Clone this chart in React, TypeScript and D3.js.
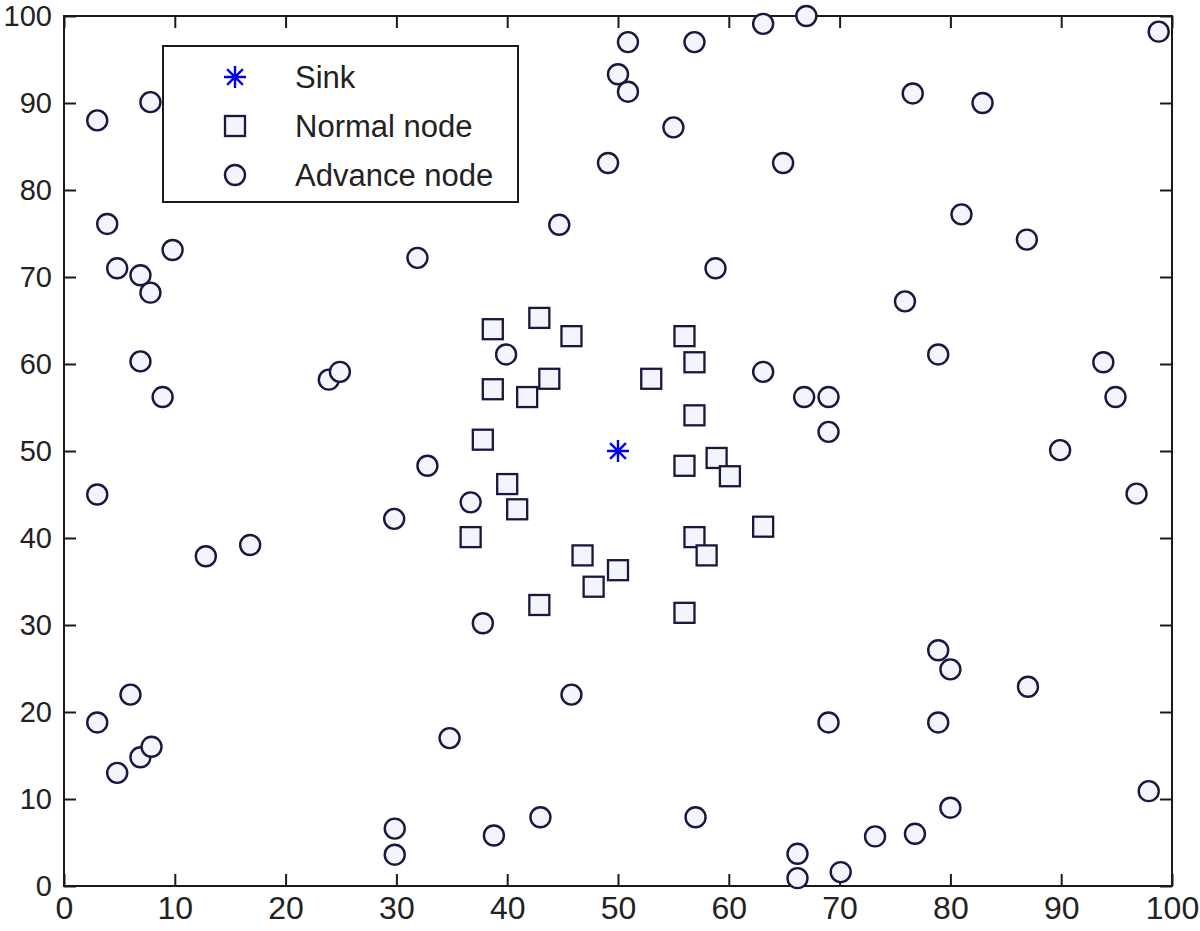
import React, { useEffect, useRef } from 'react';
import * as d3 from 'd3';

const sinkX = [50];
const sinkY = [50];

const normalX = [38.7, 42.9, 45.8, 56, 56.9, 53, 43.8, 41.8, 38.7, 56.9, 37.8, 56, 58.9, 60.1, 40, 40.9, 36.7, 63.1, 56.9, 58, 46.8, 50, 47.8, 42.9, 56];
const normalY = [64, 65.3, 63.2, 63.2, 60.2, 58.3, 58.3, 56.2, 57.1, 54.1, 51.3, 48.3, 49.2, 47.1, 46.2, 43.3, 40.1, 41.3, 40.1, 38, 38, 36.3, 34.4, 32.3, 31.4];

const advanceX = [3, 7.8, 3.9, 4.8, 6.9, 7.8, 9.8, 6.9, 8.9, 3, 12.8, 16.8, 6, 3, 4.8, 6.9, 7.9, 23.9, 24.9, 31.9, 32.8, 29.8, 34.8, 29.85, 29.85, 38.8, 43, 45.8, 37.8, 36.7, 39.9, 44.7, 49.1, 50, 50.9, 50.9, 55, 56.9, 63.1, 67, 64.9, 58.8, 63.1, 66.8, 69, 69, 57, 66.2, 66.2, 70.1, 73.2, 76.8, 80, 69, 78.9, 78.9, 80, 87, 97.9, 89.9, 96.8, 93.8, 94.9, 78.9, 75.9, 86.9, 81, 76.6, 82.9, 98.8];
const advanceY = [88, 90.1, 76.1, 71, 70.2, 68.2, 73.1, 60.3, 56.2, 45, 37.9, 39.2, 22, 18.8, 13, 14.8, 16, 58.2, 59.1, 72.2, 48.3, 42.2, 17, 6.6, 3.6, 5.8, 7.9, 22, 30.2, 44.1, 61.1, 76, 83.1, 93.3, 97, 91.3, 87.2, 97, 99.1, 100, 83.1, 71, 59.1, 56.2, 56.2, 52.2, 7.9, 3.7, 0.9, 1.6, 5.7, 6, 9, 18.8, 18.8, 27.1, 24.9, 22.9, 10.9, 50.1, 45.1, 60.2, 56.2, 61.1, 67.2, 74.3, 77.2, 91.1, 90, 98.2];

const xTicks = [0, 10, 20, 30, 40, 50, 60, 70, 80, 90, 100];
const yTicks = [0, 10, 20, 30, 40, 50, 60, 70, 80, 90, 100];
const legendLabels = ['Sink', 'Normal node', 'Advance node'];

const W = 1200;
const H = 931;
const M = { left: 64, right: 1172, top: 16, bottom: 886 };
const MARK = '#17173f';
const FILL = '#f3f4fc';
const AXIS = '#1a1a1a';
const FONT = '"Liberation Sans", Arial, sans-serif';

function starPath(cx: number, cy: number, r: number) {
  const p = d3.path();
  const d = r * 0.72;
  p.moveTo(cx - r, cy); p.lineTo(cx + r, cy);
  p.moveTo(cx, cy - r); p.lineTo(cx, cy + r);
  p.moveTo(cx - d, cy - d); p.lineTo(cx + d, cy + d);
  p.moveTo(cx - d, cy + d); p.lineTo(cx + d, cy - d);
  return p.toString();
}

export default function App() {
  const ref = useRef<SVGSVGElement>(null);
  useEffect(() => {
    const svg = d3.select(ref.current);
    svg.selectAll('*').remove();
    const x = d3.scaleLinear().domain([0, 100]).range([M.left, M.right]);
    const y = d3.scaleLinear().domain([0, 100]).range([M.bottom, M.top]);

    svg.append('rect').attr('width', W).attr('height', H).attr('fill', '#fff');

    const styleAxis = (g: any, fs: number) => {
      g.select('.domain').remove();
      g.selectAll('line').attr('stroke', AXIS).attr('stroke-width', 2);
      g.selectAll('text').attr('fill', '#222').style('font-family', FONT).style('font-size', fs + 'px');
    };

    const gx = svg.append('g').attr('transform', `translate(0,${M.bottom})`)
      .call(d3.axisBottom(x).tickValues(xTicks).tickSize(-12).tickSizeOuter(0).tickPadding(10).tickFormat(d3.format('d')) as any);
    styleAxis(gx, 32);
    const gy = svg.append('g').attr('transform', `translate(${M.left},0)`)
      .call(d3.axisLeft(y).tickValues(yTicks).tickSize(-12).tickSizeOuter(0).tickPadding(12).tickFormat(d3.format('d')) as any);
    styleAxis(gy, 29);
    const gt = svg.append('g').attr('transform', `translate(0,${M.top})`)
      .call(d3.axisTop(x).tickValues(xTicks).tickSize(-12).tickSizeOuter(0).tickFormat(() => '') as any);
    styleAxis(gt, 10);
    const gr = svg.append('g').attr('transform', `translate(${M.right},0)`)
      .call(d3.axisRight(y).tickValues(yTicks).tickSize(-12).tickSizeOuter(0).tickFormat(() => '') as any);
    styleAxis(gr, 10);

    svg.append('rect').attr('x', M.left).attr('y', M.top)
      .attr('width', M.right - M.left).attr('height', M.bottom - M.top)
      .attr('fill', 'none').attr('stroke', AXIS).attr('stroke-width', 2);

    const R = 10;
    const S = 20;
    const plot = svg.append('g');
    plot.selectAll('circle.adv').data(advanceX.map((v, i) => [v, advanceY[i]]))
      .join('circle').attr('class', 'adv')
      .attr('cx', d => x(d[0])).attr('cy', d => y(d[1])).attr('r', R)
      .attr('fill', FILL).attr('stroke', MARK).attr('stroke-width', 2.4);
    plot.selectAll('rect.norm').data(normalX.map((v, i) => [v, normalY[i]]))
      .join('rect').attr('class', 'norm')
      .attr('x', d => x(d[0]) - S / 2).attr('y', d => y(d[1]) - S / 2)
      .attr('width', S).attr('height', S)
      .attr('fill', FILL).attr('stroke', MARK).attr('stroke-width', 2.3);
    plot.selectAll('path.sink').data(sinkX.map((v, i) => [v, sinkY[i]]))
      .join('path').attr('class', 'sink')
      .attr('d', d => starPath(x(d[0]), y(d[1]), 11))
      .attr('stroke', '#0000ee').attr('stroke-width', 2.4).attr('fill', 'none');

    // Legend
    const lg = svg.append('g');
    lg.append('rect').attr('x', 163).attr('y', 46).attr('width', 355).attr('height', 156)
      .attr('fill', '#fff').attr('stroke', AXIS).attr('stroke-width', 2);
    const rows = [77, 126, 175];
    const sx = 235;
    lg.append('path').attr('d', starPath(sx, rows[0], 11))
      .attr('stroke', '#0000ee').attr('stroke-width', 2.4).attr('fill', 'none');
    lg.append('rect').attr('x', sx - S / 2).attr('y', rows[1] - S / 2).attr('width', S).attr('height', S)
      .attr('fill', FILL).attr('stroke', MARK).attr('stroke-width', 2.3);
    lg.append('circle').attr('cx', sx).attr('cy', rows[2]).attr('r', R)
      .attr('fill', FILL).attr('stroke', MARK).attr('stroke-width', 2.4);
    lg.selectAll('text.lab').data(legendLabels).join('text').attr('class', 'lab')
      .attr('x', 295).attr('y', (_, i) => rows[i])
      .attr('dy', '0.36em')
      .attr('fill', '#222')
      .style('font-family', FONT).style('font-size', '31px')
      .text(d => d);
  }, []);
  return <svg ref={ref} width={W} height={H} style={{ position: 'absolute', left: 0, top: 0, display: 'block' }} />;
}
